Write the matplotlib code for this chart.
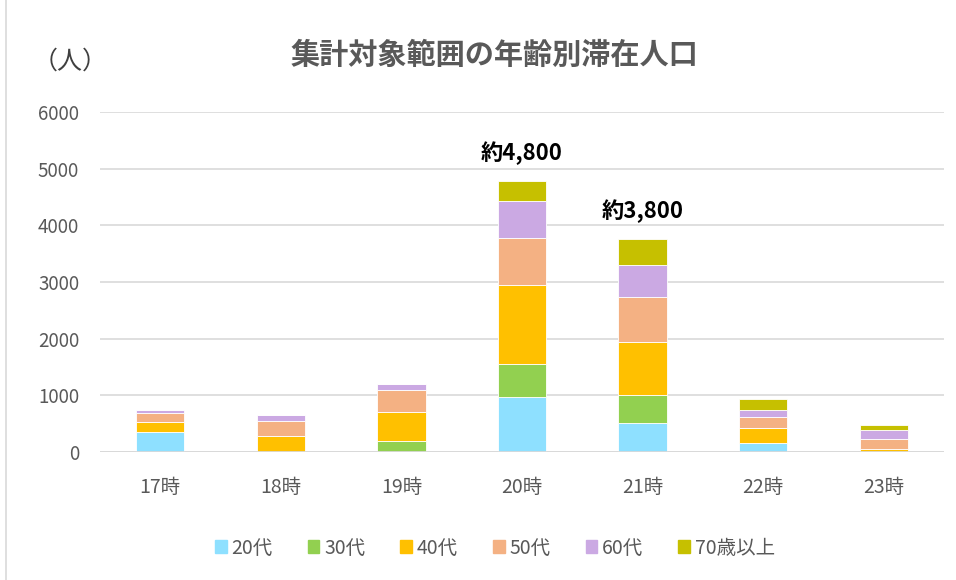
import matplotlib
matplotlib.use("Agg")
import matplotlib.pyplot as plt
from matplotlib.lines import Line2D
import numpy as np

plt.rcParams['font.family'] = ['Noto Sans CJK JP', 'DejaVu Sans']

categories = ["17時", "18時", "19時", "20時", "21時", "22時", "23時"]
series_names = ["20代", "30代", "40代", "50代", "60代", "70歳以上"]
s20 = [355, 0, 0, 975, 515, 165, 0]
s30 = [0, 0, 190, 575, 490, 0, 0]
s40 = [180, 280, 510, 1400, 940, 250, 50]
s50 = [160, 265, 390, 825, 795, 195, 180]
s60 = [50, 100, 110, 655, 565, 135, 150]
s70 = [0, 0, 0, 360, 450, 185, 95]
series = [s20, s30, s40, s50, s60, s70]
colors = ["#8EE0FF", "#92D050", "#FFC000", "#F4B183", "#CBA9E3", "#C6C000"]
yticks = [0, 1000, 2000, 3000, 4000, 5000, 6000]
annotations = {3: "約4,800", 4: "約3,800"}
title = "集計対象範囲の年齢別滞在人口"
unit = "（人）"

W, H = 956, 580
fig = plt.figure(figsize=(W/100, H/100), dpi=100)
ax = fig.add_axes([100/W, 128/H, 844/W, 340/H])

x = np.arange(len(categories))
bottom = np.zeros(len(categories))
for name, vals, c in zip(series_names, series, colors):
    ax.bar(x, vals, 0.4, bottom=bottom, color=c, edgecolor="white", linewidth=0.6,
           label=name, zorder=3)
    bottom += np.array(vals)

ax.set_xlim(-0.5, len(categories) - 0.5)
ax.set_ylim(0, 6000)
ax.set_yticks(yticks)
ax.set_yticklabels([str(t) for t in yticks], color="#595959", fontsize=13.5)
ax.set_xticks(x)
ax.set_xticklabels(categories, color="#595959", fontsize=14)
ax.tick_params(axis='both', length=0)
ax.tick_params(axis='y', pad=15)
ax.tick_params(axis='x', pad=18)
for sp in ax.spines.values():
    sp.set_visible(False)
ax.yaxis.grid(True, color="#D9D9D9", linewidth=1.2, zorder=0)
ax.axhline(0, color="#D9D9D9", linewidth=2, zorder=4)

for i, txt in annotations.items():
    ax.text(x[i], bottom[i] + 280, txt, ha="center", va="bottom",
            fontsize=16, fontweight="bold", color="black")

fig.text(494/W, 1 - 55/H, title, ha="center", va="center", fontsize=21,
         fontweight="bold", color="#595959")
fig.text(70/W, 1 - 62/H, unit, ha="center", va="center", fontsize=18, color="#404040")

handles = [plt.Rectangle((0, 0), 1, 1, color=c) for c in colors]
fig.legend(handles, series_names, loc="center", bbox_to_anchor=(495/W, 1 - 548/H),
           ncol=6, frameon=False, fontsize=14, handlelength=0.6, handleheight=0.6,
           handletextpad=0.25, columnspacing=1.8, labelcolor="#595959")

fig.add_artist(Line2D([6/W, 6/W], [0, 1], transform=fig.transFigure,
                      color="#D9D9D9", linewidth=1.2))

fig.savefig("out.png", dpi=100)
